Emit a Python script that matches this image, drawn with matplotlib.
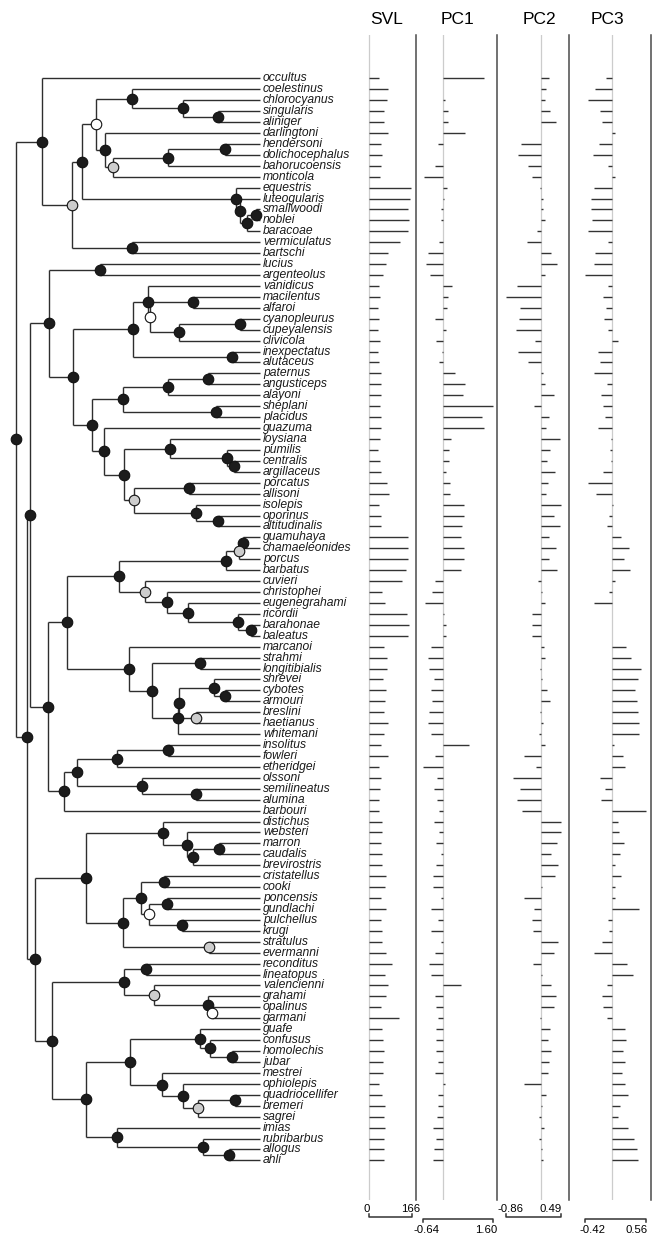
import matplotlib
matplotlib.use("Agg")
import matplotlib.pyplot as plt
from matplotlib.transforms import blended_transform_factory

plt.rcParams["font.family"] = "Liberation Sans"

# Tree: internal node label = state (k black, g grey, w white) + node depth from root
TREE = """
(
 (occultus,
  ((((coelestinus,(chlorocyanus,(singularis,aliniger)k202)k167)k116,
     (darlingtoni,(((hendersoni,dolichocephalus)k209,bahorucoensis)k152,monticola)g97)k89)w80,
    (equestris,(luteogularis,((smallwoodi,noblei)k240,baracoae)k231)k224)k220)k66,
   (vermiculatus,bartschi)k116)g56)k26,
 (
  (
   ((lucius,argenteolus)k84,
    (((vanidicus,((macilentus,alfaroi)k177,((cyanopleurus,cupeyalensis)k224,clivicola)k163)w134)k132,
      (inexpectatus,alutaceus)k216)k117,
     ((((paternus,angusticeps)k192,alayoni)k152,(sheplani,placidus)k200)k107,
      (guazuma,((loysiana,(pumilis,(centralis,argillaceus)k218)k211)k154,
                ((porcatus,allisoni)k173,(isolepis,(oporinus,altitudinalis)k202)k180)g118)k108)k88)k76)k57)k33,
   (
    (((((guamuhaya,chamaeleonides)k227,porcus)g223,barbatus)k210,
      (cuvieri,(christophei,(eugenegrahami,(ricordii,(barahonae,baleatus)k235)k222)k172)k151)g129)k103,
     (marcanoi,((strahmi,longitibialis)k184,
                (((shrevei,(cybotes,armouri)k209)k198,(breslini,haetianus)g180)k163,whitemani)k162)k136)k113)k51,
    ((((insolitus,fowleri)k152,etheridgei)k101,(olssoni,(semilineatus,alumina)k180)k126)k61,
     barbouri)k48)k32)k14,
  (
   ((distichus,(websteri,((marron,caudalis)k203,brevirostris)k177)k171)k147,
    (((cristatellus,cooki)k148,((poncensis,gundlachi)k151,(pulchellus,krugi)k166)w133)k125,
     (stratulus,evermanni)g193)k107)k70,
   (((reconditus,lineatopus)k130,(valencienni,(grahami,(opalinus,garmani)w196)k192)g138)k108,
    (((guafe,(confusus,(homolechis,jubar)k216)k194)k184,
      (mestrei,(ophiolepis,((quadriocellifer,bremeri)k219,sagrei)g182)k167)k146)k114,
     (imias,(rubribarbus,(allogus,ahli)k213)k187)k101)k70)k36)k19)k11
)k0;
"""
TIP_DEPTH = 244

# trait values, in tip order (top to bottom)
svl = [39, 71, 70, 55, 55, 71, 46, 48, 45, 43,
       160, 158, 148, 154, 148, 117, 71, 66, 52, 37,
       41, 34, 37, 32, 43, 35, 36, 45, 45, 45,
       41, 45, 44, 41, 32, 41, 44, 70, 77, 39,
       46, 45, 148, 148, 148, 143, 126, 48, 59, 144,
       154, 150, 58, 70, 67, 52, 66, 61, 55, 72,
       58, 44, 71, 39, 44, 40, 36, 39, 50, 50,
       45, 49, 48, 64, 59, 45, 64, 45, 48, 48,
       63, 86, 61, 73, 63, 46, 115, 49, 52, 55,
       53, 53, 37, 49, 59, 57, 59, 58, 57, 57]
pc1 = [1.32, -0.01, 0.07, 0.15, 0.15, 0.69, -0.16, -0.01, -0.27, -0.61,
       0.13, 0.04, -0.08, -0.07, -0.01, -0.12, -0.49, -0.53, -0.43, 0.30,
       0.16, 0.13, -0.25, 0.11, -0.23, -0.02, -0.12, 0.39, 0.71, 0.65,
       1.60, 1.25, 1.31, 0.26, 0.19, 0.19, 0.11, 0.23, 0.23, 0.68,
       0.68, 0.61, 0.57, 0.67, 0.66, 0.58, -0.27, -0.34, -0.58, 0.03,
       0.10, 0.08, -0.37, -0.49, -0.46, -0.28, -0.39, -0.36, -0.45, -0.49,
       -0.37, 0.83, -0.27, -0.64, -0.20, -0.29, -0.20, -0.14, -0.29, -0.12,
       -0.21, -0.06, -0.23, -0.33, -0.33, -0.07, -0.39, -0.16, -0.39, -0.07,
       -0.27, -0.45, -0.37, 0.58, -0.27, -0.21, -0.15, -0.21, -0.22, -0.23,
       -0.16, -0.26, 0.07, -0.17, -0.17, -0.20, -0.31, -0.21, -0.29, -0.33]
pc2 = [0.20, 0.12, 0.11, 0.23, 0.38, 0.01, -0.49, -0.58, -0.33, -0.22,
       -0.03, 0.06, 0.04, 0.09, -0.09, -0.36, 0.24, 0.41, 0.11, -0.60,
       -0.86, -0.53, -0.55, -0.61, -0.16, -0.56, -0.32, 0.04, 0.11, 0.32,
       -0.17, 0.19, 0.13, 0.48, 0.22, 0.16, 0.36, 0.17, 0.12, 0.49,
       0.32, 0.48, 0.19, 0.38, 0.19, 0.39, -0.07, 0.02, 0.10, -0.22,
       -0.23, -0.22, 0.08, 0.10, -0.03, 0.03, 0.15, 0.23, -0.03, 0.05,
       -0.05, 0.11, -0.42, -0.12, -0.70, -0.52, -0.59, -0.48, 0.49, 0.49,
       0.40, 0.26, 0.43, 0.34, 0.03, -0.43, -0.17, -0.22, -0.20, 0.42,
       0.33, -0.20, 0.03, 0.24, 0.38, 0.32, -0.03, 0.22, 0.17, 0.24,
       0.19, 0.17, -0.43, 0.12, 0.02, -0.06, 0.08, -0.06, 0.03, 0.06]
pc3 = [-0.09, -0.26, -0.37, -0.18, -0.15, 0.05, -0.20, -0.30, -0.05, 0.06,
       -0.28, -0.33, -0.33, -0.32, -0.37, -0.05, -0.27, -0.28, -0.42, -0.05,
       -0.13, -0.09, -0.12, -0.05, 0.10, -0.21, -0.19, -0.28, -0.08, -0.17,
       -0.13, -0.10, -0.22, -0.01, -0.02, -0.01, -0.14, -0.37, -0.25, 0.02,
       -0.04, -0.08, 0.16, 0.28, 0.20, 0.29, 0.05, -0.04, -0.28, 0.01,
       0.01, 0.01, 0.23, 0.31, 0.47, 0.42, 0.38, 0.41, 0.43, 0.44,
       0.45, 0.04, 0.19, 0.21, -0.19, -0.11, -0.17, 0.56, 0.10, 0.12,
       0.20, 0.13, 0.05, 0.15, 0.05, 0.06, 0.45, -0.05, -0.04, -0.16,
       -0.28, 0.25, 0.34, -0.07, -0.16, -0.14, -0.08, 0.21, 0.23, 0.19,
       0.21, 0.17, 0.21, 0.27, 0.13, 0.10, 0.27, 0.36, 0.41, 0.42]

trait_names = ["SVL", "PC1", "PC2", "PC3"]
trait_values = [svl, pc1, pc2, pc3]
scale_ends = [(0, 166), (-0.64, 1.60), (-0.86, 0.49), (-0.42, 0.56)]
scale_labels = [("0", "166"), ("-0.64", "1.60"), ("-0.86", "0.49"), ("-0.42", "0.56")]


def parse_newick(s):
    s = "".join(s.split()).rstrip(";")
    pos = 0

    def read_label():
        nonlocal pos
        j = pos
        while pos < len(s) and s[pos] not in ",()":
            pos += 1
        return s[j:pos]

    def node():
        nonlocal pos
        if s[pos] == "(":
            pos += 1
            kids = [node()]
            while s[pos] == ",":
                pos += 1
                kids.append(node())
            pos += 1
            lab = read_label()
            return {"kids": kids, "state": lab[0], "depth": float(lab[1:])}
        return {"name": read_label()}

    return node()


def layout(n, tips):
    if "name" in n:
        n["x"], n["y"] = TIP_DEPTH, len(tips)
        tips.append(n["name"])
        return
    for k in n["kids"]:
        layout(k, tips)
    n["x"] = n["depth"]
    n["y"] = (n["kids"][0]["y"] + n["kids"][-1]["y"]) / 2


def walk(n):
    yield n
    for k in n.get("kids", []):
        yield from walk(k)


W, H = 653, 1239
TOP, BOTTOM = 35, 1200          # px extent of the panels
Y0, DY = 78.3, 10.93            # first tip row and row spacing in px
LINE = "#2e2e2e"


def fx(px):
    return px / W


def fy(py):
    return 1 - py / H


root = parse_newick(TREE)
tips = []
layout(root, tips)

fig = plt.figure(figsize=(W / 100, H / 100), dpi=100)
ylim = ((BOTTOM - Y0) / DY, (TOP - Y0) / DY)
ax_h = (BOTTOM - TOP) / H

# ---- tree ----
ax = fig.add_axes([fx(16), fy(BOTTOM), fx(244), ax_h])
ax.set_xlim(0, TIP_DEPTH)
ax.set_ylim(*ylim)
ax.axis("off")

hx, hy0, hy1, vx, vy0, vy1 = [], [], [], [], [], []
for n in walk(root):
    if "kids" not in n:
        continue
    vx.append(n["x"])
    vy0.append(n["kids"][0]["y"])
    vy1.append(n["kids"][-1]["y"])
    for k in n["kids"]:
        hy0.append(k["y"])
        hx.append(n["x"])
        hy1.append(k["x"])
ax.hlines(hy0, hx, hy1, color=LINE, lw=1.0, clip_on=False)
ax.vlines(vx, vy0, vy1, color=LINE, lw=1.0, clip_on=False)

fills = {"k": "#1c1c1c", "g": "#cdcdcd", "w": "white"}
for st, fc in fills.items():
    nodes = [n for n in walk(root) if n.get("state") == st]
    ax.plot([n["x"] for n in nodes], [n["y"] for n in nodes], "o", ms=7.6,
            mfc=fc, mec="#111111", mew=0.8, clip_on=False, zorder=3)

for i, name in enumerate(tips):
    ax.text(TIP_DEPTH + 3, i, name, style="italic", fontsize=8.7,
            va="center", ha="left", color="#1a1a1a", clip_on=False)

# ---- trait panels: (left px, right px, zero px, px per unit) ----
panels = [(345, 416, 369.3, 43 / 166),
          (420, 496.7, 443.0, 31.25),
          (500, 569.3, 541.0, 40.2),
          (575, 650.7, 611.5, 62.2)]
header_x = [387, 458, 539, 607]
scale_label_x = [(367, 411), (426, 486), (510, 551), (593, 637)]

for j, (name, vals) in enumerate(zip(trait_names, trait_values)):
    left, right, zero, ppu = panels[j]
    tax = fig.add_axes([fx(left), fy(BOTTOM), fx(right - left), ax_h])
    tax.set_xlim((left - zero) / ppu, (right - zero) / ppu)
    tax.set_ylim(*ylim)
    tax.set_xticks([])
    tax.set_yticks([])
    for sp in ["left", "top", "bottom"]:
        tax.spines[sp].set_visible(False)
    tax.spines["right"].set_color("#4a4a4a")
    tax.spines["right"].set_linewidth(1.1)
    tax.patch.set_alpha(0)
    tax.axvline(0, color="#cccccc", lw=0.9, zorder=1)
    tax.hlines(range(len(vals)), 0, vals, color="#333333", lw=1.0, zorder=2)

    fig.text(fx(header_x[j]), fy(19), name, fontsize=12.5, ha="center", va="center")

    # scale bracket under each panel
    tr = blended_transform_factory(tax.transData, fig.transFigure)
    lo, hi = scale_ends[j]
    if j % 2 == 0:
        line_y, tick_y, lab_y = 1217, 1213.5, 1209
    else:
        line_y, tick_y, lab_y = 1218.5, 1222, 1230
    tax.plot([lo, lo, hi, hi], [fy(tick_y), fy(line_y), fy(line_y), fy(tick_y)],
             color="#333333", lw=1.1, transform=tr, clip_on=False)
    for px, s in zip(scale_label_x[j], scale_labels[j]):
        fig.text(fx(px), fy(lab_y), s, fontsize=8.2, ha="center", va="center")

fig.savefig("out.png", dpi=100)
